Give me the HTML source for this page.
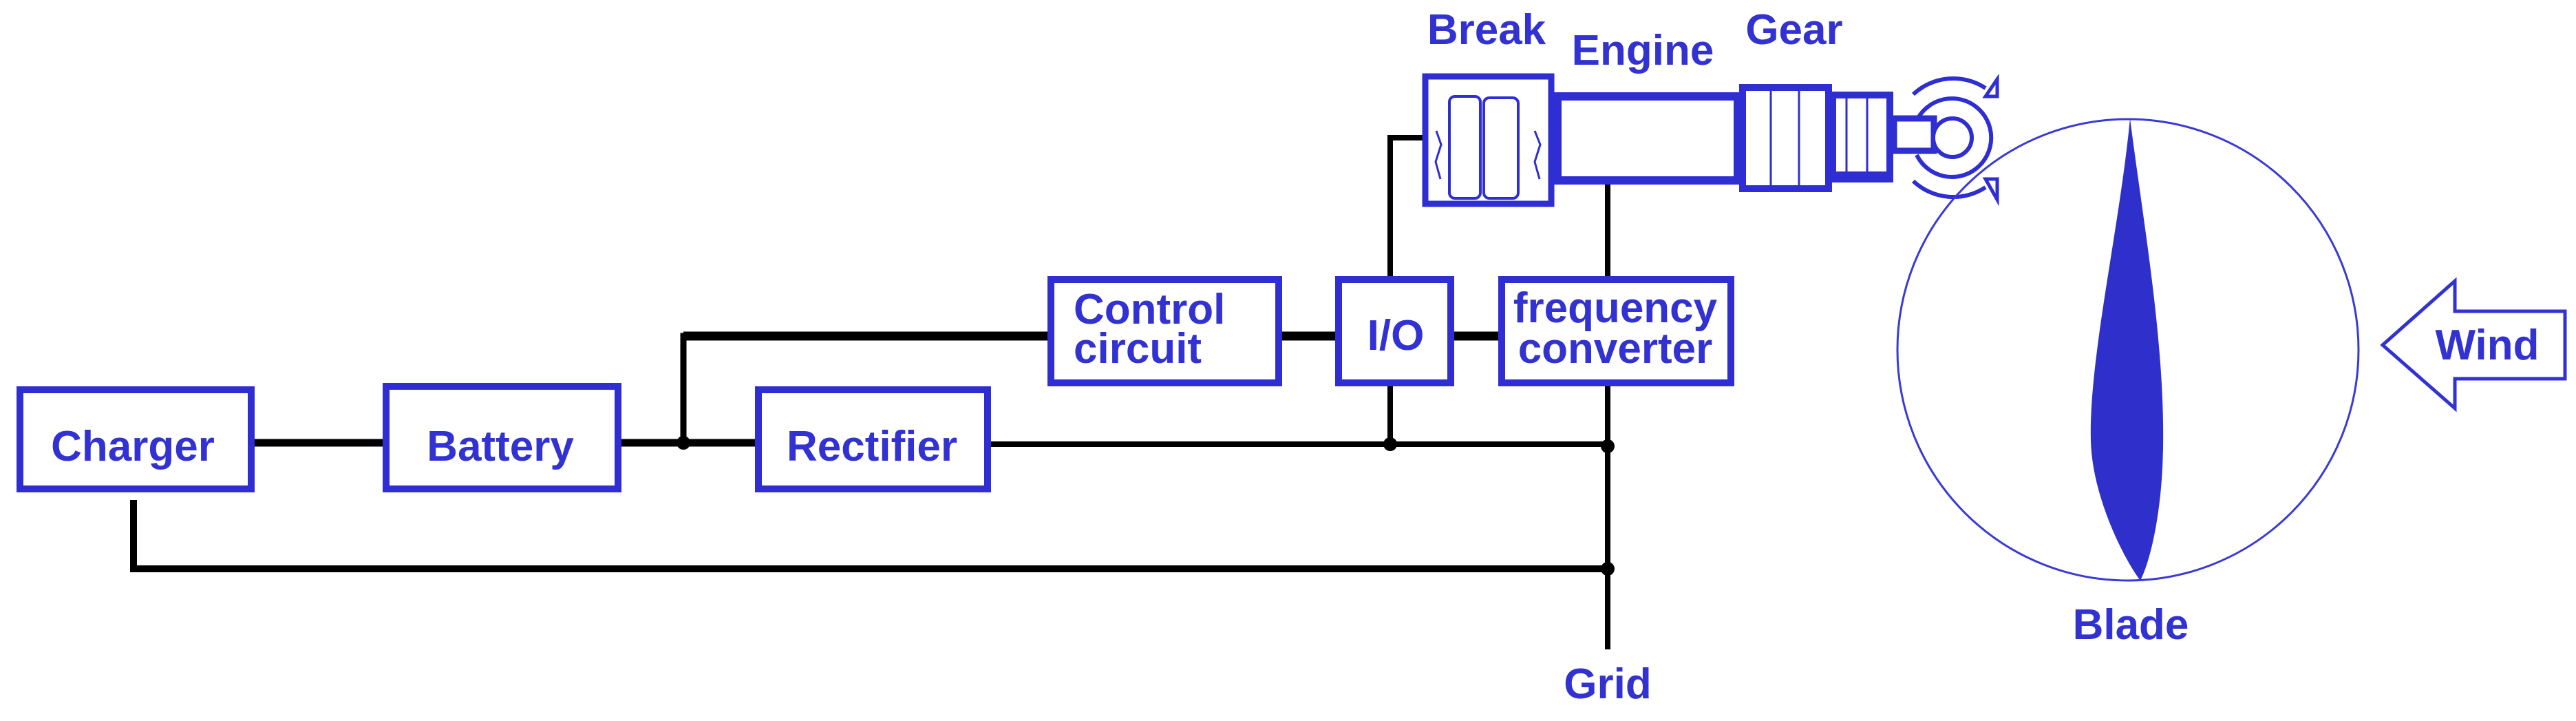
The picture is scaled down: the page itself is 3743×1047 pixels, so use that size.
<!DOCTYPE html>
<html><head><meta charset="utf-8"><style>
html,body{margin:0;padding:0;background:#fff;}
svg{display:block;}
text{font-family:"Liberation Sans",sans-serif;font-weight:bold;fill:#3232d2;}
</style></head><body>
<svg width="3743" height="1047" viewBox="0 0 3743 1047" xmlns="http://www.w3.org/2000/svg">
<g stroke="#000" fill="none" stroke-linecap="butt">
  <line x1="363" y1="643" x2="1440" y2="643" stroke-width="11"/>
  <line x1="1440" y1="645" x2="2336" y2="645" stroke-width="8"/>
  <polyline points="993,643 993,488 1522,488" stroke-width="9"/>
  <line x1="993" y1="488" x2="1522" y2="488" stroke-width="13"/>
  <line x1="1863" y1="488" x2="1940" y2="488" stroke-width="13"/>
  <line x1="2113" y1="488" x2="2177" y2="488" stroke-width="13"/>
  <polyline points="194,726 194,826 2336,826" stroke-width="10"/>
  <line x1="2336" y1="265" x2="2336" y2="943" stroke-width="8"/>
  <polyline points="2020,645 2020,200 2067,200" stroke-width="8"/>
</g>
<g fill="#000">
  <circle cx="993" cy="643" r="10"/>
  <circle cx="2020" cy="645" r="10"/>
  <circle cx="2336" cy="648" r="10"/>
  <circle cx="2336" cy="826" r="10"/>
</g>
<g fill="#fff" stroke="#2e2ed2" stroke-width="10">
  <rect x="29" y="566" width="336" height="144"/>
  <rect x="561" y="561" width="337" height="149"/>
  <rect x="1102" y="566" width="333" height="144"/>
  <rect x="1527" y="406" width="331" height="150"/>
  <rect x="1945" y="406" width="163" height="150"/>
  <rect x="2182" y="406" width="333" height="150"/>
</g>
<g stroke="#2e2ed2" fill="#fff">
  <rect x="2071" y="111" width="183" height="185" stroke-width="9"/>
  <rect x="2263" y="140" width="262" height="122" stroke-width="12"/>
  <rect x="2532" y="127" width="125" height="147" stroke-width="10"/>
  <rect x="2663" y="138" width="83" height="122" stroke-width="10"/>
  <line x1="2663" y1="256" x2="2746" y2="256" stroke-width="14"/>
  <line x1="2573" y1="127" x2="2573" y2="274" stroke-width="3"/>
  <line x1="2614" y1="127" x2="2614" y2="274" stroke-width="3"/>
  <line x1="2683" y1="138" x2="2683" y2="260" stroke-width="3"/>
  <line x1="2713" y1="138" x2="2713" y2="260" stroke-width="3"/>
  <rect x="2752" y="172" width="58" height="47" stroke-width="9"/>
  <rect x="2106" y="140" width="45" height="148" rx="8" stroke-width="4"/>
  <rect x="2156" y="142" width="50" height="146" rx="8" stroke-width="4"/>
  <path d="M2087,190 L2094,210 L2086,235 L2093,260 M2230,190 L2238,210 L2230,235 L2237,260" fill="none" stroke-width="3"/>
  <circle cx="2837" cy="200" r="28" stroke-width="6" fill="#fff"/>
  <path d="M2785,175 A57,57 0 1 1 2785,225" fill="none" stroke-width="6"/>
  <path d="M2780,137 A85,85 0 0 1 2885,128" fill="none" stroke-width="6"/>
  <path d="M2780,263 A85,85 0 0 0 2885,272" fill="none" stroke-width="6"/>
  <polygon points="2885,140 2902,115 2902,140" stroke-width="5"/>
  <polygon points="2885,260 2902,260 2902,290" stroke-width="5"/>
</g>
<circle cx="3092" cy="508" r="335" fill="none" stroke="#3a3ad6" stroke-width="3"/>
<path d="M3095,172 C3115,330 3150,520 3142,680 C3138,760 3122,820 3110,843 C3085,810 3040,720 3038,640 C3035,520 3080,330 3095,172 Z" fill="#2f2fcc"/>
<polygon points="3462,501 3567,408 3567,452 3727,452 3727,550 3567,550 3567,593" fill="#fff" stroke="#3232d2" stroke-width="5"/>
<g font-size="62" text-anchor="middle">
  <text x="193" y="669">Charger</text>
  <text x="727" y="669">Battery</text>
  <text x="1267" y="669">Rectifier</text>
  <text x="1560" y="470" text-anchor="start">Control</text>
  <text x="1560" y="527" text-anchor="start">circuit</text>
  <text x="2028" y="508">I/O</text>
  <text x="2347" y="468">frequency</text>
  <text x="2347" y="527">converter</text>
  <text x="2160" y="64">Break</text>
  <text x="2387" y="94">Engine</text>
  <text x="2607" y="64">Gear</text>
  <text x="2336" y="1014">Grid</text>
  <text x="3096" y="928">Blade</text>
  <text x="3614" y="522">Wind</text>
</g>
</svg>
</body></html>
